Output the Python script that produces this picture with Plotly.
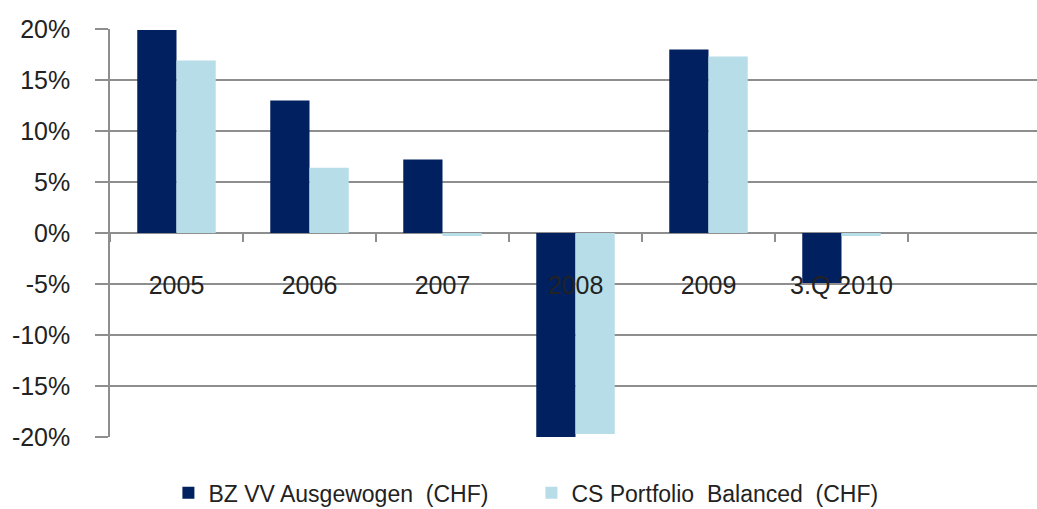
import plotly.graph_objects as go

categories = ["2005", "2006", "2007", "2008", "2009", "3.Q 2010"]
bz_values = [19.9, 13.0, 7.2, -20.4, 18.0, -4.9]
cs_values = [16.9, 6.4, -0.3, -19.7, 17.3, -0.3]
series_names = ["BZ VV Ausgewogen  (CHF)", "CS Portfolio  Balanced  (CHF)"]
y_ticks = [-20, -15, -10, -5, 0, 5, 10, 15, 20]
y_tick_labels = [f"{v}%" for v in y_ticks]

font_main = "Liberation Sans, Arial, sans-serif"
grid_col = "#8e8e8e"

fig = go.Figure()
fig.add_trace(go.Bar(x=categories, y=bz_values, name=series_names[0], cliponaxis=False,
                     marker=dict(color="#002060", line=dict(width=0))))
fig.add_trace(go.Bar(x=categories, y=cs_values, name=series_names[1], cliponaxis=False,
                     marker=dict(color="#b7dde8", line=dict(width=0))))

fig.update_layout(
    width=1037, height=509,
    margin=dict(l=110, r=0, t=29, b=72, autoexpand=False),
    paper_bgcolor="white", plot_bgcolor="white",
    barmode="group", bargap=0.41, bargroupgap=0,
    font=dict(family=font_main, color="#222222", size=24),
    showlegend=True,
    legend=dict(orientation="h", x=0.063, xanchor="left", y=-0.137, yanchor="middle",
                font=dict(family=font_main, size=23, color="#222222"),
                entrywidth=318, entrywidthmode="pixels",
                itemwidth=30, traceorder="normal", bgcolor="rgba(0,0,0,0)"),
    xaxis=dict(type="category", range=[-0.5, 6.47], showgrid=False, zeroline=False,
               showline=False, ticks="outside", ticklen=8, tickwidth=1.5, tickcolor=grid_col,
               tickson="boundaries", anchor="free", position=0.5, automargin=False,
               tickfont=dict(size=25, family=font_main, color="#222222"),
               ticklabelstandoff=35, fixedrange=True),
    yaxis=dict(range=[-20, 20], tickvals=y_ticks, ticktext=y_tick_labels,
               showgrid=True, gridcolor=grid_col, gridwidth=1.5,
               zeroline=True, zerolinecolor=grid_col, zerolinewidth=1.5,
               showline=True, linecolor=grid_col, linewidth=1.5,
               ticks="outside", ticklen=13, tickwidth=1.5, tickcolor=grid_col,
               tickfont=dict(size=25, family=font_main, color="#222222"),
               ticklabelstandoff=20, automargin=False, fixedrange=True),
)

fig.write_html("out.html", config={"displayModeBar": False},
               post_script="document.body.style.margin='0';document.body.style.overflow='hidden';")
